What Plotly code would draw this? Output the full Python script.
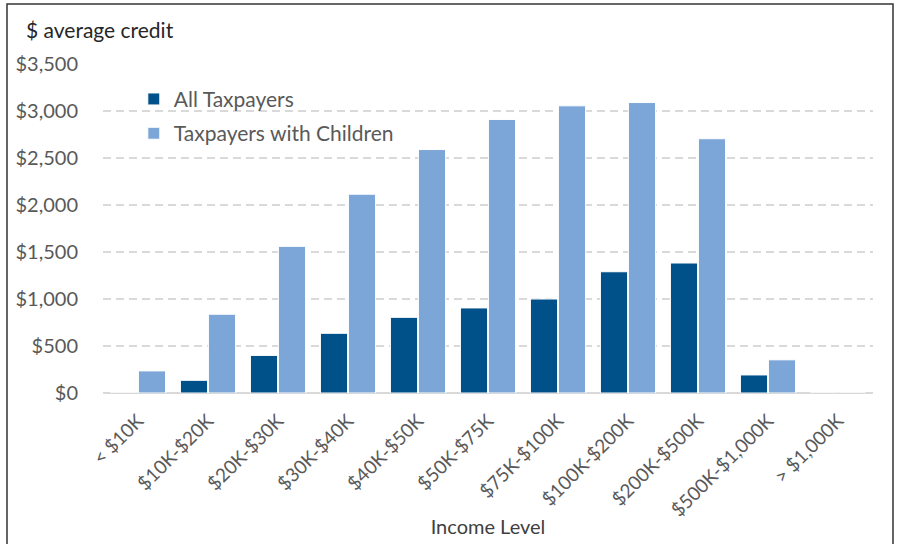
import plotly.graph_objects as go

categories = ["< $10K", "$10K-$20K", "$20K-$30K", "$30K-$40K", "$40K-$50K", "$50K-$75K",
              "$75K-$100K", "$100K-$200K", "$200K-$500K", "$500K-$1,000K", "> $1,000K"]
all_taxpayers = [0, 135, 400, 635, 805, 905, 1000, 1290, 1383, 192, 0]
with_children = [235, 838, 1560, 2115, 2590, 2910, 3055, 3090, 2705, 353, 0]
y_ticks = [0, 500, 1000, 1500, 2000, 2500, 3000, 3500]
y_tick_labels = ["$0", "$500", "$1,000", "$1,500", "$2,000", "$2,500", "$3,000", "$3,500"]

FONT = "Lato"

fig = go.Figure()
fig.add_trace(go.Bar(x=categories, y=all_taxpayers, name="All Taxpayers",
                     marker=dict(color="#00508A", line=dict(color="white", width=1)),
                     legendgroup="a"))
fig.add_trace(go.Bar(x=categories, y=with_children, name="Taxpayers with Children",
                     marker=dict(color="#7DA6D8", line=dict(color="white", width=1)),
                     legendgroup="b"))

fig.update_layout(
    width=902, height=544,
    margin=dict(l=103, r=29, t=64, b=151),
    paper_bgcolor="white", plot_bgcolor="white",
    barmode="group", bargap=0.2, bargroupgap=0.03,
    font=dict(family=FONT, color="#595959", size=19),
    showlegend=True,
    legend=dict(x=0.04, y=0.955, xanchor="left", yanchor="top",
                bgcolor="rgba(0,0,0,0)", font=dict(size=21, color="#595959"),
                traceorder="grouped", tracegroupgap=4, itemwidth=30),
    xaxis=dict(tickangle=-45, tickfont=dict(size=19, color="#595959"),
               showgrid=False, showline=False, ticks="", ticklabelstandoff=12,
               automargin=False,
               title=dict(text="Income Level", font=dict(size=20, color="#404040"), standoff=0)),
    yaxis=dict(range=[0, 3500], tickvals=y_ticks, ticktext=y_tick_labels,
               showgrid=True, gridcolor="#D9D9D9", griddash="8px,5px", gridwidth=2,
               zeroline=True, zerolinecolor="#D9D9D9", zerolinewidth=2, automargin=False,
               tickfont=dict(size=20, color="#595959"), ticks="", ticklabelstandoff=24),
)

fig.add_annotation(text="$ average credit", xref="paper", yref="paper",
                   x=-0.102, y=1.106, xanchor="left", yanchor="middle",
                   showarrow=False, font=dict(size=21, color="#262626", family=FONT))

# outer frame
fig.add_shape(type="rect", xref="paper", yref="paper",
              x0=(7 - 103) / 770, x1=(893 - 103) / 770,
              y0=(393 - 560) / 329, y1=(393 - 4) / 329,
              line=dict(color="#333333", width=1.5), fillcolor="rgba(0,0,0,0)", layer="below")

fig.write_html("out.html", config={"displayModeBar": False},
               post_script="document.body.style.margin='0';")
